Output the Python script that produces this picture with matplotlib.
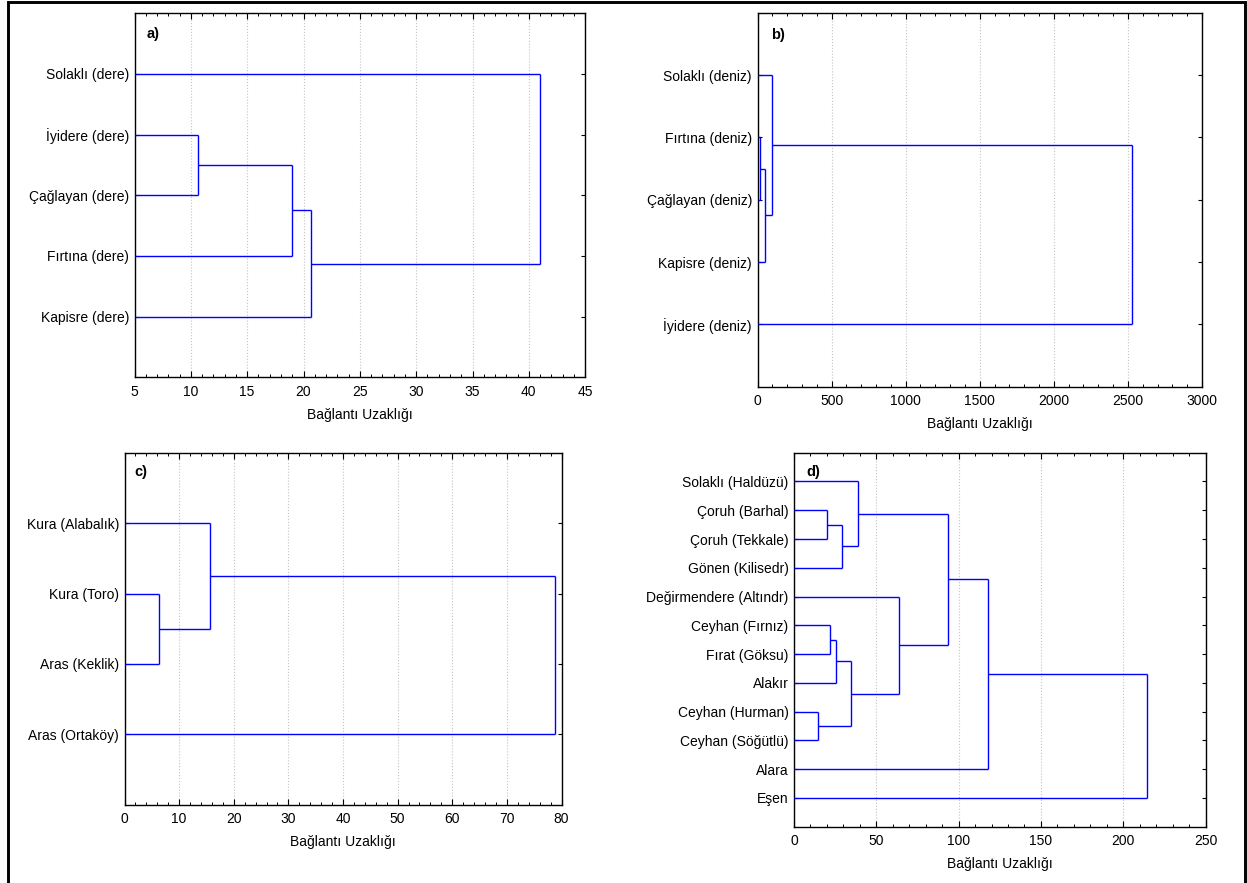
import matplotlib
matplotlib.use("Agg")
import matplotlib.pyplot as plt
from matplotlib.ticker import AutoMinorLocator
from matplotlib.lines import Line2D

plt.rcParams['font.family'] = ['Liberation Sans', 'DejaVu Sans']

# ---------------- data ----------------
# Leaves listed top to bottom; clusters numbered after the leaves (n, n+1, ...)
a_labels = ['Solaklı (dere)', 'İyidere (dere)', 'Çağlayan (dere)', 'Fırtına (dere)', 'Kapisre (dere)']
a_merges = [(1, 2), (5, 3), (6, 4), (7, 0)]
a_heights = [10.6, 19.0, 20.7, 41.0]
a_xticks = [5, 10, 15, 20, 25, 30, 35, 40, 45]

b_labels = ['Solaklı (deniz)', 'Fırtına (deniz)', 'Çağlayan (deniz)', 'Kapisre (deniz)', 'İyidere (deniz)']
b_merges = [(1, 2), (5, 3), (0, 6), (7, 4)]
b_heights = [20, 52, 97, 2528]
b_xticks = [0, 500, 1000, 1500, 2000, 2500, 3000]

c_labels = ['Kura (Alabalık)', 'Kura (Toro)', 'Aras (Keklik)', 'Aras (Ortaköy)']
c_merges = [(1, 2), (0, 4), (5, 3)]
c_heights = [6.4, 15.6, 78.8]
c_xticks = [0, 10, 20, 30, 40, 50, 60, 70, 80]

d_labels = ['Solaklı (Haldüzü)', 'Çoruh (Barhal)', 'Çoruh (Tekkale)', 'Gönen (Kilisedr)',
            'Değirmendere (Altındr)', 'Ceyhan (Fırnız)', 'Fırat (Göksu)', 'Alakır',
            'Ceyhan (Hurman)', 'Ceyhan (Söğütlü)', 'Alara', 'Eşen']
d_merges = [(1, 2), (12, 3), (0, 13), (5, 6), (15, 7), (8, 9), (16, 17),
            (4, 18), (14, 19), (20, 10), (21, 11)]
d_heights = [20.0, 29.4, 38.6, 22.1, 25.5, 14.6, 34.7, 63.9, 93.8, 117.6, 214.3]
d_xticks = [0, 50, 100, 150, 200, 250]

panel_tags = ['a)', 'b)', 'c)', 'd)']

# ---------------- layout ----------------
W, H = 1247, 883
fig = plt.figure(figsize=(W / 100, H / 100), dpi=100)

def px_axes(l, t, r, b):
    return fig.add_axes([l / W, 1 - b / H, (r - l) / W, (b - t) / H])

LINE = '#0000ff'

def dendro(ax, labels, merges, heights, xticks, tag, tagpos):
    n = len(labels)
    xmin = xticks[0]
    ypos = {i: i + 1 for i in range(n)}
    xpos = {i: xmin for i in range(n)}
    for k, ((c1, c2), h) in enumerate(zip(merges, heights)):
        y1, y2 = ypos[c1], ypos[c2]
        ax.plot([xpos[c1], h], [y1, y1], color=LINE, lw=1.0, solid_capstyle='butt', zorder=3)
        ax.plot([xpos[c2], h], [y2, y2], color=LINE, lw=1.0, solid_capstyle='butt', zorder=3)
        ax.plot([h, h], [y1, y2], color=LINE, lw=1.0, solid_capstyle='butt', zorder=3)
        ypos[n + k] = (y1 + y2) / 2
        xpos[n + k] = h
    ax.set_xlim(xticks[0], xticks[-1])
    ax.set_ylim(n + 1, 0)
    ax.set_xticks(xticks)
    ax.set_xticklabels([str(t) for t in xticks])
    ax.xaxis.set_minor_locator(AutoMinorLocator(5))
    ax.set_yticks(range(1, n + 1))
    ax.set_yticklabels(labels)
    ax.tick_params(axis='x', which='major', direction='in', top=True, bottom=True,
                   length=4, width=0.8, labelsize=10, pad=5.5)
    ax.tick_params(axis='x', which='minor', direction='in', top=True, bottom=True,
                   length=2.5, width=0.7)
    ax.tick_params(axis='y', which='major', direction='in', left=True, right=True,
                   length=3, width=0.8, labelsize=10, pad=4)
    ax.grid(True, axis='x', which='major', color='#c4c4c4', linestyle=':', linewidth=0.8, zorder=0)
    for s in ax.spines.values():
        s.set_linewidth(1.0)
        s.set_color('black')
    ax.set_xlabel('Bağlantı Uzaklığı', fontsize=10, labelpad=6.5)
    ax.text(tagpos[0], tagpos[1], tag, transform=ax.transAxes, fontsize=10.5,
            fontweight='bold', ha='left', va='center')

ax_a = px_axes(134.5, 13.3, 585.2, 377.3)
ax_b = px_axes(757.5, 12.7, 1202.0, 386.7)
ax_c = px_axes(124.5, 452.7, 561.5, 804.7)
ax_d = px_axes(794.0, 452.7, 1205.6, 826.7)

dendro(ax_a, a_labels, a_merges, a_heights, a_xticks, panel_tags[0], (0.026, 0.944))
dendro(ax_b, b_labels, b_merges, b_heights, b_xticks, panel_tags[1], (0.031, 0.94))
dendro(ax_c, c_labels, c_merges, c_heights, c_xticks, panel_tags[2], (0.023, 0.946))
dendro(ax_d, d_labels, d_merges, d_heights, d_xticks, panel_tags[3], (0.031, 0.948))

# outer frame (left, top, right edges; bottom is cut off in the reference)
xl, xr, yt = 8 / W, 1244.7 / W, 1 - 1.5 / H
fig.add_artist(Line2D([xl, xl, xr, xr], [0, yt, yt, 0], transform=fig.transFigure,
                      color='black', lw=2.1, solid_joinstyle='miter'))

fig.savefig('out.png', dpi=100)
